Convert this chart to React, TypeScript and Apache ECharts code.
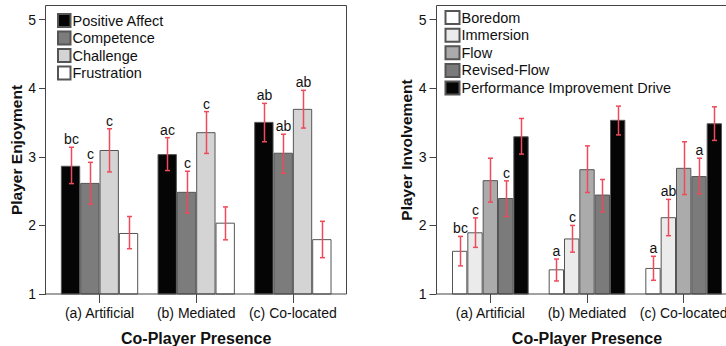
import React, { useEffect, useRef } from "react";
import * as echarts from "echarts";

const categories = ["(a) Artificial", "(b) Mediated", "(c) Co-located"];
const yTicks = [1, 2, 3, 4, 5];

// Left chart: Player Enjoyment
const enjoymentNames = ["Positive Affect", "Competence", "Challenge", "Frustration"];
const positiveAffect = [2.87, 3.04, 3.51];
const competence = [2.62, 2.49, 3.06];
const challenge = [3.1, 3.36, 3.7];
const frustration = [1.89, 2.04, 1.8];
const positiveAffectCI = [[2.61, 3.14], [2.8, 3.28], [3.22, 3.78]];
const competenceCI = [[2.31, 2.92], [2.18, 2.79], [2.76, 3.33]];
const challengeCI = [[2.78, 3.41], [3.05, 3.66], [3.42, 3.97]];
const frustrationCI = [[1.66, 2.13], [1.79, 2.27], [1.53, 2.06]];
const positiveAffectSig = ["bc", "ac", "ab"];
const competenceSig = ["c", "c", "ab"];
const challengeSig = ["c", "c", "ab"];
const frustrationSig = ["", "", ""];

// Right chart: Player Involvement
const involvementNames = ["Boredom", "Immersion", "Flow", "Revised-Flow", "Performance Improvement Drive"];
const boredom = [1.63, 1.36, 1.38];
const immersion = [1.9, 1.81, 2.12];
const flow = [2.66, 2.82, 2.84];
const revisedFlow = [2.4, 2.45, 2.72];
const performanceDrive = [3.3, 3.54, 3.49];
const boredomCI = [[1.41, 1.84], [1.19, 1.51], [1.2, 1.55]];
const immersionCI = [[1.68, 2.11], [1.61, 2.0], [1.85, 2.38]];
const flowCI = [[2.34, 2.98], [2.48, 3.16], [2.45, 3.22]];
const revisedFlowCI = [[2.13, 2.65], [2.2, 2.67], [2.46, 2.98]];
const performanceDriveCI = [[3.04, 3.56], [3.32, 3.74], [3.24, 3.73]];
const boredomSig = ["bc", "a", "a"];
const immersionSig = ["c", "c", "ab"];
const flowSig = ["", "", ""];
const revisedFlowSig = ["c", "", "a"];
const performanceDriveSig = ["", "", ""];

const FONT = "'Liberation Sans', Arial, Helvetica, sans-serif";
const ERR = "#ee4b5a";
const BORDER = "#555";

type Group = {
  values: number[];
  ci: number[][];
  sig: string[];
  color: string;
};

const leftGroups: Group[] = [
  { values: positiveAffect, ci: positiveAffectCI, sig: positiveAffectSig, color: "#050505" },
  { values: competence, ci: competenceCI, sig: competenceSig, color: "#7c7c7c" },
  { values: challenge, ci: challengeCI, sig: challengeSig, color: "#d4d4d4" },
  { values: frustration, ci: frustrationCI, sig: frustrationSig, color: "#ffffff" },
];
const rightGroups: Group[] = [
  { values: boredom, ci: boredomCI, sig: boredomSig, color: "#ffffff" },
  { values: immersion, ci: immersionCI, sig: immersionSig, color: "#ebebeb" },
  { values: flow, ci: flowCI, sig: flowSig, color: "#ababab" },
  { values: revisedFlow, ci: revisedFlowCI, sig: revisedFlowSig, color: "#7b7b7b" },
  { values: performanceDrive, ci: performanceDriveCI, sig: performanceDriveSig, color: "#050505" },
];

function buildSeries(names: string[], groups: Group[], axisIndex: number, bw: number) {
  const n = groups.length;
  const out: any[] = [];
  groups.forEach((g, k) => {
    out.push({
      type: "bar",
      name: names[k],
      xAxisIndex: axisIndex,
      yAxisIndex: axisIndex,
      barWidth: bw,
      barGap: "0%",
      data: g.values,
      itemStyle: { color: g.color, borderColor: BORDER, borderWidth: 1 },
      z: 2,
    });
  });
  groups.forEach((g, k) => {
    out.push({
      type: "custom",
      name: "err-" + axisIndex + "-" + k,
      xAxisIndex: axisIndex,
      yAxisIndex: axisIndex,
      z: 5,
      data: g.ci.map((c, i) => [i, c[0], c[1]]),
      renderItem: (params: any, api: any) => {
        const cat = api.value(0);
        const lo = api.coord([cat, api.value(1)]);
        const hi = api.coord([cat, api.value(2)]);
        const x = Math.round(lo[0] + (k - (n - 1) / 2) * bw) + 0.5;
        const cap = 2.5;
        const label = g.sig[params.dataIndex];
        const children: any[] = [
          { type: "line", shape: { x1: x, y1: lo[1], x2: x, y2: hi[1] }, style: { stroke: ERR, lineWidth: 1.5 } },
          { type: "line", shape: { x1: x - cap, y1: lo[1], x2: x + cap, y2: lo[1] }, style: { stroke: ERR, lineWidth: 1.5 } },
          { type: "line", shape: { x1: x - cap, y1: hi[1], x2: x + cap, y2: hi[1] }, style: { stroke: ERR, lineWidth: 1.5 } },
        ];
        if (label) {
          children.push({
            type: "text",
            style: {
              text: label,
              x: x,
              y: hi[1] - 1,
              align: "center",
              verticalAlign: "bottom",
              fontSize: 14,
              fontFamily: FONT,
              fill: "#111",
            },
          });
        }
        return { type: "group", children };
      },
    });
  });
  return out;
}

function xAxis(gridIndex: number) {
  return {
    type: "category",
    gridIndex,
    data: categories,
    axisLine: { show: false },
    axisTick: { show: true, alignWithLabel: true, length: 9, lineStyle: { color: "#444" } },
    axisLabel: { fontSize: 14, fontFamily: FONT, color: "#111", margin: 12, interval: 0 },
    name: "Co-Player Presence",
    nameLocation: "middle",
    nameGap: 36,
    nameTextStyle: { fontSize: 16, fontWeight: "bold", fontFamily: FONT, color: "#111" },
    splitLine: { show: false },
  };
}

function yAxis(gridIndex: number, name: string, offset: number, nameGap: number) {
  return {
    type: "value",
    gridIndex,
    min: 1,
    max: 5.2,
    offset,
    axisLine: { show: false },
    axisTick: { show: true, length: 7, lineStyle: { color: "#444" }, customValues: yTicks },
    axisLabel: { fontSize: 14, fontFamily: FONT, color: "#111", margin: 10, customValues: yTicks },
    splitLine: { show: false },
    name,
    nameLocation: "middle",
    nameGap,
    nameTextStyle: { fontSize: 15.5, fontWeight: "bold", fontFamily: FONT, color: "#111" },
  };
}

function legend(data: string[], left: number, top: number, gap: number, w: number) {
  return {
    data,
    orient: "vertical",
    left,
    top,
    icon: "rect",
    itemWidth: w,
    itemHeight: 13,
    itemGap: gap,
    padding: 0,
    textStyle: { fontSize: 14.5, fontFamily: FONT, color: "#111", padding: [0, 0, 0, -3] },
    selectedMode: false,
  };
}

export default function App() {
  const ref = useRef<HTMLDivElement>(null);
  useEffect(() => {
    if (!ref.current) return;
    const chart = echarts.init(ref.current, null, { renderer: "svg" });
    chart.setOption({
      animation: false,
      backgroundColor: "#ffffff",
      grid: [
        { left: 51.2, top: 6, width: 290, height: 288, outerBoundsMode: "none", containLabel: false },
        { left: 442, top: 6, width: 290, height: 288, outerBoundsMode: "none", containLabel: false },
      ],
      xAxis: [xAxis(0), xAxis(1)],
      yAxis: [yAxis(0, "Player Enjoyment", 5.2, 17), yAxis(1, "Player Involvement", 5.5, 18)],
      legend: [
        legend(enjoymentNames, 57, 13, 2.5, 12.5),
        legend(involvementNames, 444.5, 10, 2.65, 14),
      ],
      series: [
        ...buildSeries(enjoymentNames, leftGroups, 0, 19.33),
        ...buildSeries(involvementNames, rightGroups, 1, 15.33),
      ],
      graphic: [
        {
          type: "rect",
          z: 10,
          silent: true,
          shape: { x: 45.5, y: 5.5, width: 301, height: 288.5 },
          style: { fill: "none", stroke: "#444", lineWidth: 1 },
        },
        {
          type: "rect",
          z: 10,
          silent: true,
          shape: { x: 436.5, y: 5.5, width: 400, height: 288.5 },
          style: { fill: "none", stroke: "#444", lineWidth: 1 },
        },
      ],
    });
    return () => chart.dispose();
  }, []);
  return (
    <div
      ref={ref}
      style={{ position: "fixed", left: 0, top: 0, width: 726, height: 346, background: "#fff" }}
    />
  );
}
